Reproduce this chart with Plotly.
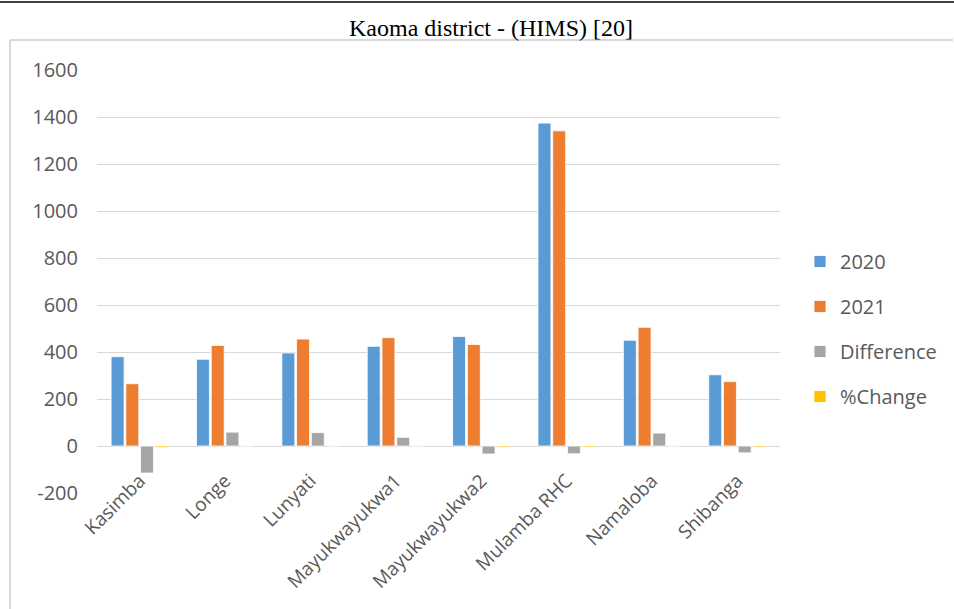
import plotly.graph_objects as go

# Facility-level counts for Kaoma district (HIMS)
facilities = ["Kasimba", "Longe", "Lunyati", "Mayukwayukwa1", "Mayukwayukwa2",
              "Mulamba RHC", "Namaloba", "Shibanga"]
values_2020 = [380, 369, 396, 424, 466, 1374, 450, 303]
values_2021 = [265, 428, 455, 461, 432, 1341, 505, 274]
difference = [-115, 59, 57, 37, -34, -33, 55, -29]
pct_change = [-7, 1, 1, 1, -6, -6, 1, -6]

y_ticks = [-200, 0, 200, 400, 600, 800, 1000, 1200, 1400, 1600]
y_tick_text = [str(v) for v in y_ticks]

series = [
    ("2020", values_2020, "#5B9BD5"),
    ("2021", values_2021, "#ED7D31"),
    ("Difference", difference, "#A5A5A5"),
    ("%Change", pct_change, "#FFC000"),
]

W, H = 954, 609
L, R, T, B = 97, 780, 70, 493  # plot area in pixels


def px(x):
    return (x - L) / (R - L)


def py(y):
    return (B - y) / (B - T)


fig = go.Figure()
for name, vals, color in series:
    fig.add_trace(go.Bar(
        x=facilities, y=vals, name=name, legendgroup=name,
        marker=dict(color=color, line=dict(color="white", width=0.8)),
    ))

font_family = "Open Sans, DejaVu Sans, sans-serif"

fig.update_layout(
    width=W, height=H,
    margin=dict(l=L, r=W - R, t=T, b=H - B, autoexpand=False),
    paper_bgcolor="white", plot_bgcolor="white",
    barmode="group", bargap=0.31, bargroupgap=0.12,
    title=dict(text="Kaoma district - (HIMS) [20]", x=491 / W, xanchor="center",
               y=1 - 28 / H, yanchor="middle", yref="container",
               font=dict(family="Liberation Serif, Times New Roman, serif", size=24, color="black")),
    font=dict(family=font_family, color="#595959"),
    xaxis=dict(showgrid=False, showline=False, ticks="", tickangle=-45,
               tickfont=dict(size=19, color="#595959"), ticklabelstandoff=-28),
    yaxis=dict(range=[-200, 1600], tickvals=y_ticks, ticktext=y_tick_text,
               showgrid=True, gridcolor="#D9D9D9",
               gridwidth=1.3, zeroline=False, showline=False, ticks="",
               tickfont=dict(size=20, color="#595959"), ticklabelstandoff=18),
    legend=dict(x=px(800), y=py(242), xanchor="left", yanchor="top",
                font=dict(size=20, color="#595959"), tracegroupgap=16,
                itemwidth=30, bgcolor="rgba(0,0,0,0)"),
    showlegend=True,
)

# Page rule above the title
fig.add_shape(type="line", xref="paper", yref="paper", x0=px(0), x1=px(W),
              y0=py(2), y1=py(2), line=dict(color="black", width=1.5))
# Chart frame: top and left edges
fig.add_shape(type="line", xref="paper", yref="paper", x0=px(10), x1=px(W - 1),
              y0=py(40), y1=py(40), line=dict(color="#D9D9D9", width=2))
fig.add_shape(type="line", xref="paper", yref="paper", x0=px(10), x1=px(10),
              y0=py(40), y1=py(H + 4), line=dict(color="#D9D9D9", width=2))

fig.write_html("out.html")
